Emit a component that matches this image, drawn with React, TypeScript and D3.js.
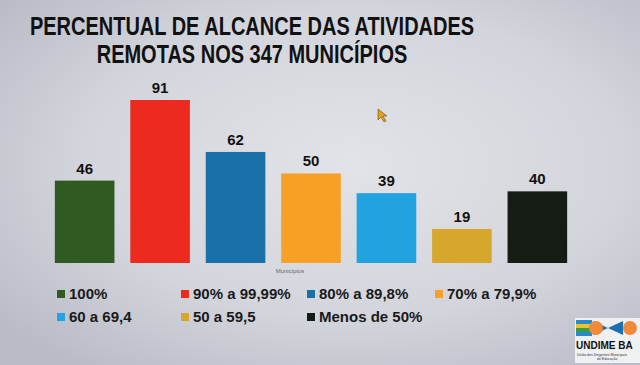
import { useEffect, useRef } from 'react';
import * as d3 from 'd3';

const width = 640;
const height = 365;

const categories = ['100%', '90% a 99,99%', '80% a 89,8%', '70% a 79,9%', '60 a 69,4', '50 a 59,5', 'Menos de 50%'];
const values = [46, 91, 62, 50, 39, 19, 40];
const barColors = ['#2f5a22', '#ec2a20', '#1a70a8', '#f7a026', '#23a2e0', '#d6a72c', '#141c14'];
const titleLines = ['PERCENTUAL DE ALCANCE DAS ATIVIDADES', 'REMOTAS NOS 347 MUNICÍPIOS'];

const font = '"Liberation Sans", Arial, sans-serif';

const App = () => {
  const svgRef = useRef(null);

  useEffect(() => {
    const svg = d3.select(svgRef.current);
    svg.selectAll('*').remove();

    // background, a photographed screen: gray with lighter middle
    const defs = svg.append('defs');
    const bg = defs
      .append('radialGradient')
      .attr('id', 'bg')
      .attr('cx', '55%')
      .attr('cy', '45%')
      .attr('r', '70%');
    bg.append('stop').attr('offset', '0%').attr('stop-color', '#e2e3e8');
    bg.append('stop').attr('offset', '60%').attr('stop-color', '#d3d5dc');
    bg.append('stop').attr('offset', '100%').attr('stop-color', '#b9bcc6');

    svg.append('rect').attr('width', width).attr('height', height).attr('fill', 'url(#bg)');

    // title (condensed look of the original font)
    svg
      .append('g')
      .attr('transform', 'translate(252,0) scale(0.8,1)')
      .selectAll('text')
      .data(titleLines)
      .join('text')
      .attr('x', 0)
      .attr('y', (d, i) => 35 + i * 28)
      .attr('text-anchor', 'middle')
      .attr('font-family', font)
      .attr('font-weight', 'bold')
      .attr('font-size', 25)
      .attr('fill', '#111')
      .text((d) => d);

    const x = d3.scaleBand().domain(categories).range([39, 583]).padding(0.21);
    const y = d3.scaleLinear().domain([0, 91]).range([263, 100]);

    const bars = svg.append('g');
    bars
      .selectAll('rect')
      .data(values)
      .join('rect')
      .attr('x', (d, i) => x(categories[i]))
      .attr('y', (d) => y(d))
      .attr('width', x.bandwidth())
      .attr('height', (d) => y(0) - y(d))
      .attr('fill', (d, i) => barColors[i]);

    bars
      .selectAll('text')
      .data(values)
      .join('text')
      .attr('x', (d, i) => x(categories[i]) + x.bandwidth() / 2)
      .attr('y', (d) => y(d) - 7)
      .attr('text-anchor', 'middle')
      .attr('font-family', font)
      .attr('font-weight', 'bold')
      .attr('font-size', 15)
      .attr('fill', '#111')
      .text((d) => d);

    // axis title
    svg
      .append('text')
      .attr('x', 290)
      .attr('y', 273)
      .attr('text-anchor', 'middle')
      .attr('font-family', font)
      .attr('font-size', 6)
      .attr('fill', '#666')
      .text('Municípios');

    // legend, 4 columns
    const colX = [57, 181, 307, 435];
    const legend = svg
      .append('g')
      .selectAll('g')
      .data(categories)
      .join('g')
      .attr('transform', (d, i) => `translate(${colX[i % 4]},${i < 4 ? 294 : 317})`);

    legend
      .append('rect')
      .attr('x', 0)
      .attr('y', -4)
      .attr('width', 8)
      .attr('height', 8)
      .attr('fill', (d, i) => barColors[i]);

    legend
      .append('text')
      .attr('x', 12)
      .attr('y', 5)
      .attr('font-family', font)
      .attr('font-weight', 'bold')
      .attr('font-size', 15)
      .attr('fill', '#1a1a1a')
      .text((d) => d);

    // UNDIME logo, bottom right
    const logo = svg.append('g').attr('transform', 'translate(575,318)');
    logo.append('rect').attr('width', 65).attr('height', 45).attr('fill', '#eef0f2');
    ['#2a8ac8', '#e8c230', '#3a9a48', '#2a8ac8'].forEach((c, i) => {
      logo.append('rect').attr('x', 1).attr('y', 2 + i * 4).attr('width', 16).attr('height', 4).attr('fill', c);
    });
    logo.append('path').attr('d', 'M18,3 L33,10 L18,17 Z M48,3 L33,10 L48,17 Z').attr('fill', '#1e6fae');
    logo.append('circle').attr('cx', 21).attr('cy', 10).attr('r', 7).attr('fill', '#f08a3a');
    logo.append('circle').attr('cx', 55).attr('cy', 10).attr('r', 7).attr('fill', '#f08a3a');
    logo
      .append('text')
      .attr('x', 1)
      .attr('y', 31)
      .attr('font-family', font)
      .attr('font-weight', 'bold')
      .attr('font-size', 10)
      .attr('fill', '#111')
      .text('UNDIME BA');
    logo
      .append('text')
      .attr('x', 2)
      .attr('y', 38)
      .attr('font-family', font)
      .attr('font-size', 3.5)
      .attr('fill', '#333')
      .text('União dos Dirigentes Municipais');
    logo
      .append('text')
      .attr('x', 22)
      .attr('y', 42)
      .attr('font-family', font)
      .attr('font-size', 3.5)
      .attr('fill', '#333')
      .text('de Educação');

    // mouse pointer visible on screen
    svg
      .append('path')
      .attr('d', 'M378,109 L378,120 L381,117 L384,122 L386,121 L383,116 L387,116 Z')
      .attr('fill', '#e0a020')
      .attr('stroke', '#6a5010')
      .attr('stroke-width', 0.6);
  }, []);

  return (
    <svg
      ref={svgRef}
      width={width}
      height={height}
      style={{ position: 'absolute', left: 0, top: 0, display: 'block' }}
    ></svg>
  );
};

export default App;
